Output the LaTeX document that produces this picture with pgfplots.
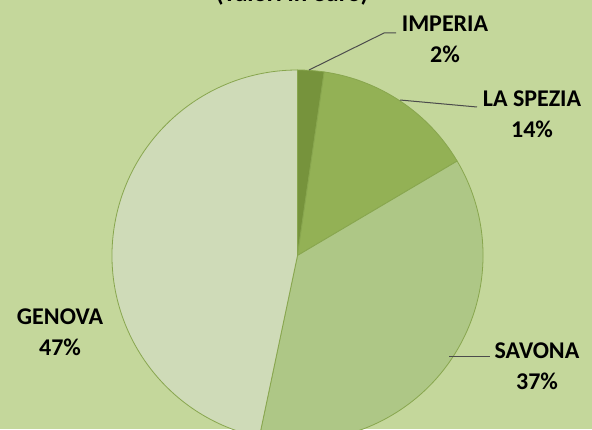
\documentclass[border=0pt]{standalone}
\usepackage{pgfplots}
\usepackage{pgfplotstable}
\usepackage{fontspec}
\pgfplotsset{compat=1.18}
\setmainfont{Carlito}

\definecolor{bgc}{HTML}{C4D79B}
\definecolor{cimp}{HTML}{76933C}
\definecolor{cspe}{HTML}{93B155}
\definecolor{csav}{HTML}{AEC786}
\definecolor{cgen}{HTML}{CFDBB8}
\definecolor{edge}{HTML}{88A64E}

% shares in percent, clockwise from 12 o'clock
\pgfplotstableread{
name     value color
IMPERIA   2.3  cimp
SPEZIA   14.2  cspe
SAVONA   36.8  csav
GENOVA   46.7  cgen
}\piedata

\begin{document}
\begin{tikzpicture}
\begin{axis}[
  x=0.5pt, y=0.5pt,
  xmin=0, xmax=592, ymin=0, ymax=429,
  hide axis, clip=false,
]
\coordinate (bl) at (axis cs:0,0);
\coordinate (tr) at (axis cs:592,429);
\fill[bgc] (axis cs:0,0) rectangle (axis cs:592,429);
\pgfplotsextra{
  \gdef\start{90}
  \pgfplotsforeachungrouped \i in {0,...,3}{
    \pgfplotstablegetelem{\i}{value}\of\piedata \let\v=\pgfplotsretval
    \pgfplotstablegetelem{\i}{color}\of\piedata \let\c=\pgfplotsretval
    \pgfmathsetmacro\stop{\start-3.6*\v}
    \filldraw[fill=\c, draw=edge, line width=0.4pt]
      (axis cs:297.5,173.5) -- ++(\start:92.75pt)
      arc[start angle=\start, end angle=\stop, radius=92.75pt] -- cycle;
    \xdef\start{\stop}
  }
}
% title (cut at the top edge)
\node[font=\fontsize{12.5}{15}\selectfont\bfseries, anchor=base]
  at (axis cs:292,427.5) {(valori in euro)};
% leader lines
\draw[black!70, line width=0.5pt] (axis cs:309,359) -- (axis cs:384,396) -- (axis cs:396,396);
\draw[black!70, line width=0.5pt] (axis cs:400,329) -- (axis cs:477,322);
\draw[black!70, line width=0.5pt] (axis cs:449,73) -- (axis cs:490,73);
% labels
\tikzset{lab/.style={font=\fontsize{12}{15.5}\selectfont\bfseries, align=center, inner sep=0pt}}
\node[lab] at (axis cs:445,389.5) {IMPERIA\\2\%};
\node[lab] at (axis cs:532,315) {LA SPEZIA\\14\%};
\node[lab] at (axis cs:537,63) {SAVONA\\37\%};
\node[lab] at (axis cs:60,97) {GENOVA\\47\%};
\end{axis}
\pgfresetboundingbox
\useasboundingbox (bl) rectangle (tr);
\end{tikzpicture}
\end{document}
